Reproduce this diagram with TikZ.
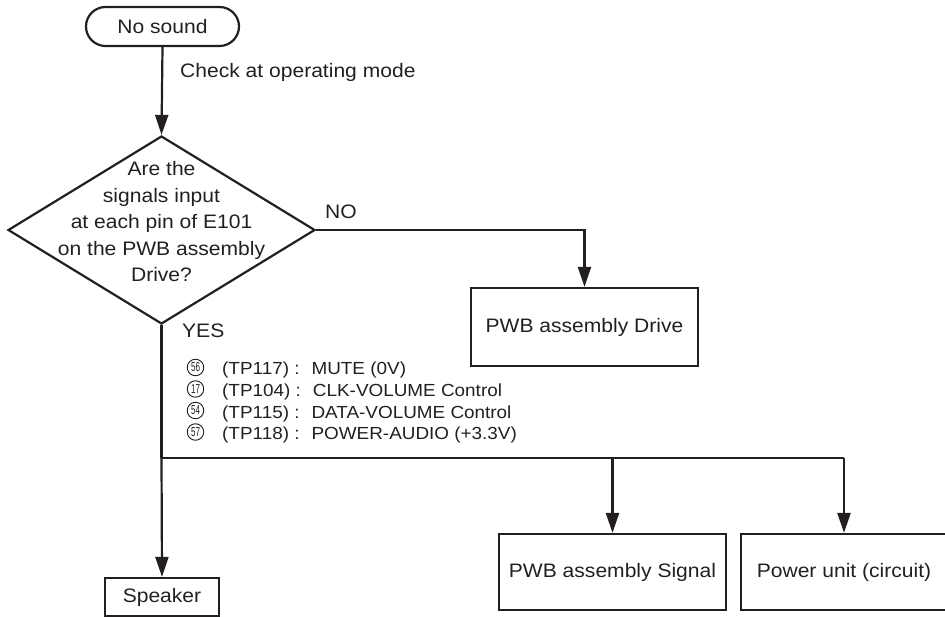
\documentclass[tikz,border=0pt]{standalone}
\usepackage{fontspec}
\setmainfont[FakeStretch=1.08]{Liberation Sans}
\newfontfamily\circfont[FakeStretch=0.62]{Liberation Sans}
\usetikzlibrary{arrows.meta,shapes.geometric}
\definecolor{ink}{HTML}{231F20}
\begin{document}
\begin{tikzpicture}[x=1pt,y=-1pt,
  ln/.style={line width=2.2pt, draw=ink},
  arr/.style={ln, -{Triangle[length=20pt,width=13pt]}},
  txt/.style={font=\fontsize{19.5pt}{26.5pt}\selectfont, text=ink, inner sep=0pt},
  ltxt/.style={font=\fontsize{17.5pt}{21pt}\selectfont, text=ink, inner sep=0pt, anchor=base west},
  boxs/.style={txt, draw=ink, line width=2.2pt, rectangle},
  term/.style={boxs, rounded corners=19.5pt, minimum width=153pt, minimum height=39pt},
  dia/.style={diamond, draw=ink, line width=2.2pt, minimum width=307pt, minimum height=188pt, inner sep=0pt},
  circnum/.style={circle, draw=ink, line width=0.9pt, minimum size=16.5pt, inner sep=0pt,
    font=\circfont\fontsize{13pt}{13pt}\selectfont, text=ink}
]
\useasboundingbox (0,0) rectangle (945,617);
\clip (0,0) rectangle (945,617);

\node[term] (start) at (162.5,26.5) {No sound};
\node[dia] (q) at (161.5,230) {};
\node[txt, align=center] (qt) at (161.5,222) {Are the\\signals input\\at each pin of E101\\on the PWB assembly\\Drive?};
\node[txt, anchor=base west] (chk) at (180,78) {Check at operating mode};
\node[txt, anchor=base west] (no) at (325,219) {NO};
\node[txt, anchor=base west] (yes) at (182,338) {YES};

\node[boxs, minimum width=227pt, minimum height=78pt] (drv) at (584.5,327) {PWB assembly Drive};
\node[boxs, minimum width=227pt, minimum height=76pt] (sig) at (612.5,572) {PWB assembly Signal};
\node[boxs, minimum width=206pt, minimum height=76pt] (pwr) at (844,572) {Power unit (circuit)};
\node[boxs, minimum width=114pt, minimum height=38pt] (spk) at (162,597) {Speaker};

\node[circnum] (c1) at (195.5,367.5) {56};
\node[circnum] (c2) at (195.5,389) {17};
\node[circnum] (c3) at (195.5,410.5) {54};
\node[circnum] (c4) at (195.5,432) {57};
\node[ltxt] (l1) at (222,375) {(TP117) :\hspace{12pt}MUTE (0V)};
\node[ltxt] (l2) at (222,396.5) {(TP104) :\hspace{12pt}CLK-VOLUME Control};
\node[ltxt] (l3) at (222,418) {(TP115) :\hspace{12pt}DATA-VOLUME Control};
\node[ltxt] (l4) at (222,439.5) {(TP118) :\hspace{12pt}POWER-AUDIO (+3.3V)};

\coordinate (bus) at (161.5,458);
\coordinate (busR) at (844,458);

\draw[arr] (start.south) -- (q.north);
\draw[arr] (q.east) -| (drv.north);
\draw[ln] (q.south) -- (bus);
\draw[arr] (bus) -- (spk.north);
\draw[ln] (bus) -- (busR);
\draw[arr] (bus -| sig.north) -- (sig.north);
\draw[arr] (busR) -- (pwr.north);
\end{tikzpicture}
\end{document}
